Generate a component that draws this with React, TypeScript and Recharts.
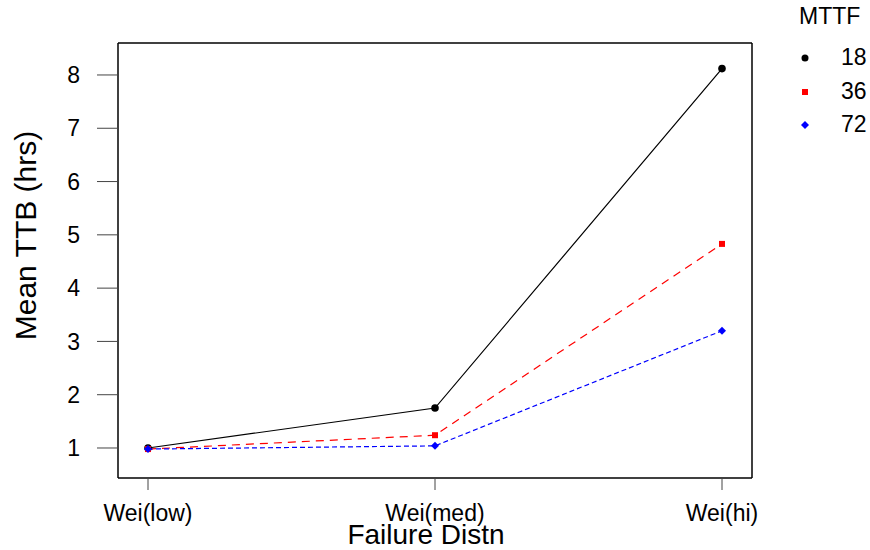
import React from "react";
import { Line, LineChart, XAxis, YAxis, Legend } from "recharts";

const categories = ["Wei(low)", "Wei(med)", "Wei(hi)"];
const mttf18 = [1.0, 1.75, 8.12];
const mttf36 = [0.98, 1.24, 4.83];
const mttf72 = [0.98, 1.04, 3.2];
const yTicks = [1, 2, 3, 4, 5, 6, 7, 8];

const seriesNames = ["18", "36", "72"];

const data = categories.map((c, i) => ({
  dist: c,
  s18: mttf18[i],
  s36: mttf36[i],
  s72: mttf72[i],
}));

const FONT = "Arial, 'Liberation Sans', sans-serif";

function CircleDot(props: any) {
  const { cx, cy } = props;
  if (cx == null || cy == null) return null;
  return <circle cx={cx} cy={cy} r={3.8} fill="#000" />;
}

function SquareDot(props: any) {
  const { cx, cy } = props;
  if (cx == null || cy == null) return null;
  return <rect x={cx - 3} y={cy - 3} width={6} height={6} fill="#ff0000" />;
}

function DiamondDot(props: any) {
  const { cx, cy } = props;
  if (cx == null || cy == null) return null;
  return (
    <path
      d={`M${cx},${cy - 4}L${cx + 4},${cy}L${cx},${cy + 4}L${cx - 4},${cy}Z`}
      fill="#0000ff"
    />
  );
}

function LegendBox() {
  const marks = [
    <circle key="a" cx={5} cy={5} r={3.5} fill="#000" />,
    <rect key="b" x={2} y={2} width={6} height={6} fill="#ff0000" />,
    <path key="c" d="M5,1L9,5L5,9L1,5Z" fill="#0000ff" />,
  ];
  return (
    <div style={{ fontFamily: FONT, color: "#000" }}>
      <div style={{ position: "absolute", left: 799, top: 3, fontSize: 23 }}>MTTF</div>
      {seriesNames.map((name, i) => (
        <div
          key={name}
          style={{ position: "absolute", left: 800, top: 44 + i * 33.5, height: 26 }}
        >
          <svg width={10} height={10} style={{ position: "absolute", left: 0, top: 9 }}>
            {marks[i]}
          </svg>
          <span style={{ position: "absolute", left: 41, top: 0, fontSize: 23 }}>{name}</span>
        </div>
      ))}
    </div>
  );
}

export default function App() {
  return (
    <div style={{ position: "absolute", left: 0, top: 0, width: 870, height: 550, background: "#fff" }}>
      <LineChart
        width={870}
        height={550}
        data={data}
        margin={{ top: 42, right: 117, bottom: 0, left: 0 }}
      >
        <XAxis
          dataKey="dist"
          scale="point"
          padding={{ left: 30, right: 30 }}
          height={72}
          axisLine={{ stroke: "#000", strokeWidth: 1.5 }}
          tickLine={{ stroke: "#444" }}
          tickSize={12}
          tickMargin={15}
          tick={{ fontSize: 23, fill: "#000", fontFamily: FONT }}
          label={{
            value: "Failure Distn",
            position: "center",
            dx: -9,
            dy: 20,
            fontSize: 28,
            fill: "#000",
            fontFamily: FONT,
          }}
        />
        <XAxis
          xAxisId="top"
          dataKey="dist"
          orientation="top"
          height={1}
          tick={false}
          tickLine={false}
          axisLine={{ stroke: "#000", strokeWidth: 1.5 }}
        />
        <YAxis
          domain={[0.437, 8.6]}
          ticks={yTicks}
          width={118}
          axisLine={{ stroke: "#000", strokeWidth: 1.5 }}
          tickLine={{ stroke: "#444" }}
          tickSize={21}
          tickMargin={17}
          tick={{ fontSize: 23, fill: "#000", fontFamily: FONT }}
          allowDataOverflow
          label={{
            value: "Mean TTB (hrs)",
            angle: -90,
            position: "center",
            dx: -34,
            dy: -25,
            fontSize: 30,
            fill: "#000",
            fontFamily: FONT,
          }}
        />
        <YAxis
          yAxisId="right"
          orientation="right"
          width={1}
          domain={[0.437, 8.6]}
          tick={false}
          tickLine={false}
          axisLine={{ stroke: "#000", strokeWidth: 1.5 }}
        />
        <Legend content={() => <LegendBox />} wrapperStyle={{ position: "absolute", left: 0, top: 0, width: 0, height: 0 }} />
        <Line
          dataKey="s18"
          stroke="#000"
          strokeWidth={1.2}
          dot={<CircleDot />}
          activeDot={false}
          isAnimationActive={false}
        />
        <Line
          dataKey="s36"
          stroke="#ff0000"
          strokeWidth={1.2}
          strokeDasharray="8 6"
          dot={<SquareDot />}
          activeDot={false}
          isAnimationActive={false}
        />
        <Line
          dataKey="s72"
          stroke="#0000ff"
          strokeWidth={1.2}
          strokeDasharray="5 3"
          dot={<DiamondDot />}
          activeDot={false}
          isAnimationActive={false}
        />
      </LineChart>
    </div>
  );
}
